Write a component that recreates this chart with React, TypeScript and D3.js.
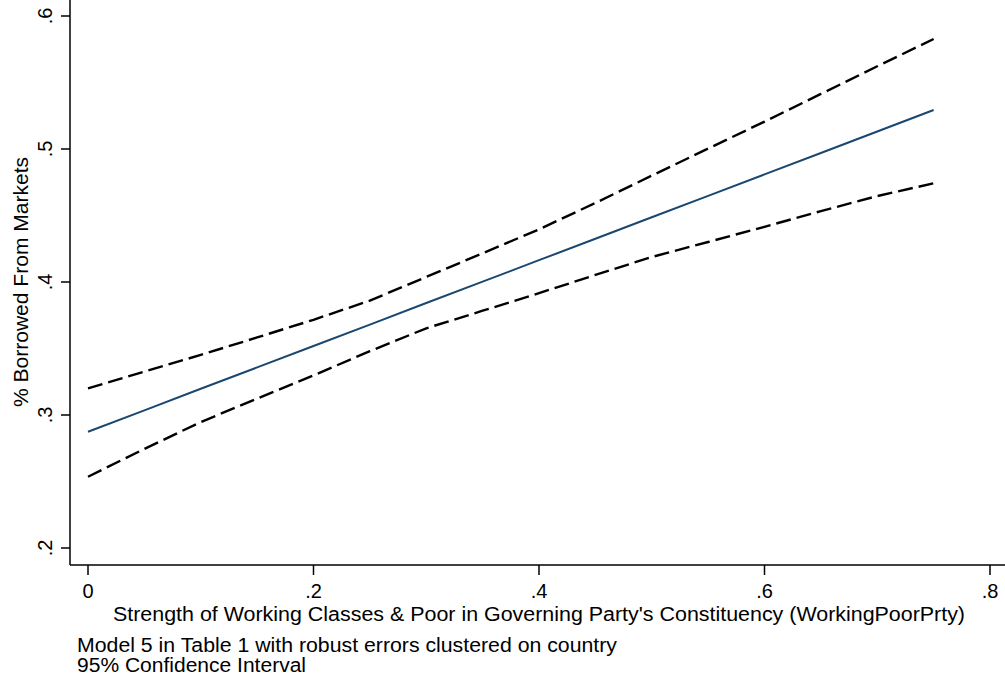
import React from "react";
import * as d3 from "d3";

// values
const xValues = [0, 0.05, 0.1, 0.15, 0.2, 0.25, 0.3, 0.35, 0.4, 0.45, 0.5, 0.55, 0.6, 0.65, 0.7, 0.75];
const predicted = [0.2874, 0.3035, 0.3197, 0.3358, 0.3519, 0.368, 0.3842, 0.4003, 0.4164, 0.4325, 0.4487, 0.4648, 0.4809, 0.497, 0.5132, 0.5293];
const upperCI = [0.32, 0.3326, 0.3452, 0.3583, 0.3716, 0.386, 0.4038, 0.4216, 0.4396, 0.4594, 0.48, 0.5003, 0.5206, 0.5414, 0.5622, 0.5827];
const lowerCI = [0.2536, 0.2745, 0.2947, 0.3123, 0.3298, 0.348, 0.3652, 0.3784, 0.3916, 0.4053, 0.4188, 0.4301, 0.4415, 0.4533, 0.4646, 0.4742];

const xTicks = [0, 0.2, 0.4, 0.6, 0.8];
const yTicks = [0.2, 0.3, 0.4, 0.5, 0.6];

const xTitle = "Strength of Working Classes & Poor in Governing Party's Constituency (WorkingPoorPrty)";
const yTitle = "% Borrowed From Markets";
const notes = ["Model 5 in Table 1 with robust errors clustered on country", "95% Confidence Interval"];

const W = 1005;
const H = 683;
const font = "'Liberation Sans', Arial, Helvetica, sans-serif";

const fmt = (v: number) => (v === 0 ? "0" : d3.format(".1f")(v).replace(/^0/, ""));

export default function App() {
  const x = d3.scaleLinear().domain([0, 0.8]).range([88, 990]);
  const y = d3.scaleLinear().domain([0.2, 0.6]).range([548, 16]);
  const axisX = 70;
  const axisY = 565;

  const line = (vals: number[]) =>
    d3
      .line<number>()
      .x((_, i) => x(xValues[i]))
      .y((d) => y(d))(vals) ?? "";

  return (
    <svg
      width={W}
      height={H}
      style={{ position: "absolute", left: 0, top: 0, background: "#fff" }}
      fontFamily={font}
    >
      {/* axes */}
      <line x1={axisX} x2={axisX} y1={0} y2={axisY} stroke="#000" strokeWidth={1.5} />
      <line x1={axisX} x2={W} y1={axisY} y2={axisY} stroke="#000" strokeWidth={1.5} />

      {yTicks.map((t) => (
        <g key={"y" + t}>
          <line x1={axisX - 9} x2={axisX} y1={y(t)} y2={y(t)} stroke="#000" strokeWidth={1.5} />
          <text
            transform={`translate(52,${y(t)}) rotate(-90)`}
            textAnchor="middle"
            fontSize={20}
          >
            {fmt(t)}
          </text>
        </g>
      ))}

      {xTicks.map((t) => (
        <g key={"x" + t}>
          <line x1={x(t)} x2={x(t)} y1={axisY} y2={axisY + 10} stroke="#000" strokeWidth={1.5} />
          <text x={x(t)} y={598} textAnchor="middle" fontSize={20}>
            {fmt(t)}
          </text>
        </g>
      ))}

      <text x={113} y={621} fontSize={19.5} textLength={852} lengthAdjust="spacingAndGlyphs">
        {xTitle}
      </text>
      <text
        transform={`translate(28,407) rotate(-90)`}
        fontSize={19.5}
        textLength={250}
        lengthAdjust="spacingAndGlyphs"
      >
        {yTitle}
      </text>

      <text x={77} y={652} fontSize={19.5} textLength={540} lengthAdjust="spacingAndGlyphs">
        {notes[0]}
      </text>
      <text x={77} y={672} fontSize={19.5} textLength={229} lengthAdjust="spacingAndGlyphs">
        {notes[1]}
      </text>

      {/* confidence bounds and prediction */}
      <path d={line(upperCI)} fill="none" stroke="#000" strokeWidth={2.4} strokeDasharray="15 6" />
      <path d={line(lowerCI)} fill="none" stroke="#000" strokeWidth={2.4} strokeDasharray="15 6" />
      <path d={line(predicted)} fill="none" stroke="#1a476f" strokeWidth={2} />
    </svg>
  );
}
